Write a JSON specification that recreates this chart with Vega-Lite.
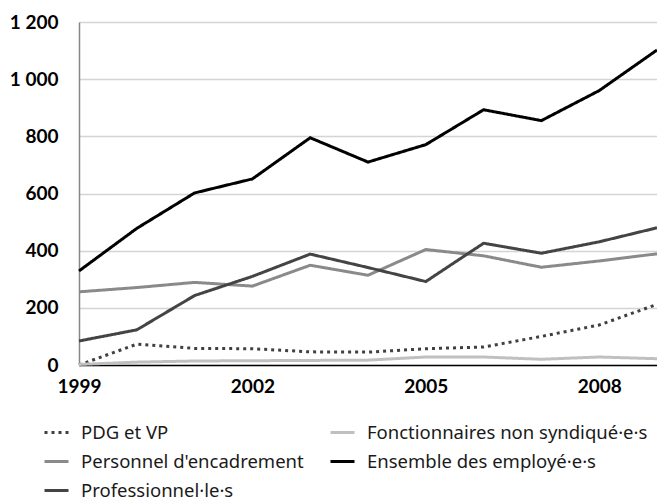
{
  "$schema": "https://vega.github.io/schema/vega-lite/v6.json",
  "width": 578,
  "height": 343,
  "autosize": {"type": "none"},
  "padding": {"left": 79, "top": 22, "right": 0, "bottom": 135},
  "background": "white",
  "config": {"view": {"stroke": null}},
  "data": {
    "values": [
      {"year": 1999, "series": "PDG et VP", "value": 0},
      {"year": 2000, "series": "PDG et VP", "value": 73},
      {"year": 2001, "series": "PDG et VP", "value": 58},
      {"year": 2002, "series": "PDG et VP", "value": 57},
      {"year": 2003, "series": "PDG et VP", "value": 46},
      {"year": 2004, "series": "PDG et VP", "value": 45},
      {"year": 2005, "series": "PDG et VP", "value": 57},
      {"year": 2006, "series": "PDG et VP", "value": 63},
      {"year": 2007, "series": "PDG et VP", "value": 100},
      {"year": 2008, "series": "PDG et VP", "value": 140},
      {"year": 2009, "series": "PDG et VP", "value": 212},
      {"year": 1999, "series": "Fonctionnaires non syndiqué·e·s", "value": 2},
      {"year": 2000, "series": "Fonctionnaires non syndiqué·e·s", "value": 10},
      {"year": 2001, "series": "Fonctionnaires non syndiqué·e·s", "value": 14},
      {"year": 2002, "series": "Fonctionnaires non syndiqué·e·s", "value": 15},
      {"year": 2003, "series": "Fonctionnaires non syndiqué·e·s", "value": 16},
      {"year": 2004, "series": "Fonctionnaires non syndiqué·e·s", "value": 17},
      {"year": 2005, "series": "Fonctionnaires non syndiqué·e·s", "value": 28},
      {"year": 2006, "series": "Fonctionnaires non syndiqué·e·s", "value": 28},
      {"year": 2007, "series": "Fonctionnaires non syndiqué·e·s", "value": 20},
      {"year": 2008, "series": "Fonctionnaires non syndiqué·e·s", "value": 28},
      {"year": 2009, "series": "Fonctionnaires non syndiqué·e·s", "value": 22},
      {"year": 1999, "series": "Personnel d'encadrement", "value": 256},
      {"year": 2000, "series": "Personnel d'encadrement", "value": 271},
      {"year": 2001, "series": "Personnel d'encadrement", "value": 289},
      {"year": 2002, "series": "Personnel d'encadrement", "value": 276},
      {"year": 2003, "series": "Personnel d'encadrement", "value": 349},
      {"year": 2004, "series": "Personnel d'encadrement", "value": 314},
      {"year": 2005, "series": "Personnel d'encadrement", "value": 404},
      {"year": 2006, "series": "Personnel d'encadrement", "value": 382},
      {"year": 2007, "series": "Personnel d'encadrement", "value": 342},
      {"year": 2008, "series": "Personnel d'encadrement", "value": 364},
      {"year": 2009, "series": "Personnel d'encadrement", "value": 389},
      {"year": 1999, "series": "Ensemble des employé·e·s", "value": 329},
      {"year": 2000, "series": "Ensemble des employé·e·s", "value": 478},
      {"year": 2001, "series": "Ensemble des employé·e·s", "value": 602},
      {"year": 2002, "series": "Ensemble des employé·e·s", "value": 651},
      {"year": 2003, "series": "Ensemble des employé·e·s", "value": 795},
      {"year": 2004, "series": "Ensemble des employé·e·s", "value": 710},
      {"year": 2005, "series": "Ensemble des employé·e·s", "value": 771},
      {"year": 2006, "series": "Ensemble des employé·e·s", "value": 893},
      {"year": 2007, "series": "Ensemble des employé·e·s", "value": 855},
      {"year": 2008, "series": "Ensemble des employé·e·s", "value": 960},
      {"year": 2009, "series": "Ensemble des employé·e·s", "value": 1102},
      {"year": 1999, "series": "Professionnel·le·s", "value": 84},
      {"year": 2000, "series": "Professionnel·le·s", "value": 123},
      {"year": 2001, "series": "Professionnel·le·s", "value": 243},
      {"year": 2002, "series": "Professionnel·le·s", "value": 310},
      {"year": 2003, "series": "Professionnel·le·s", "value": 388},
      {"year": 2004, "series": "Professionnel·le·s", "value": 341},
      {"year": 2005, "series": "Professionnel·le·s", "value": 292},
      {"year": 2006, "series": "Professionnel·le·s", "value": 426},
      {"year": 2007, "series": "Professionnel·le·s", "value": 391},
      {"year": 2008, "series": "Professionnel·le·s", "value": 431},
      {"year": 2009, "series": "Professionnel·le·s", "value": 480}
    ]
  },
  "mark": {"type": "line", "strokeWidth": 3, "strokeCap": "butt", "strokeJoin": "miter", "clip": false},
  "encoding": {
    "x": {
      "field": "year",
      "type": "quantitative",
      "scale": {"domain": [1999, 2009], "nice": false, "zero": false},
      "axis": {
        "title": null,
        "values": [1999, 2002, 2005, 2008],
        "format": "d",
        "grid": false,
        "ticks": false,
        "domainColor": "#000000",
        "domainWidth": 1.5,
        "labelFont": "Lato",
        "labelFontWeight": "bold",
        "labelFontSize": 19,
        "labelColor": "#000000",
        "labelPadding": 12,
        "labelFlush": false
      }
    },
    "y": {
      "field": "value",
      "type": "quantitative",
      "scale": {"domain": [0, 1200], "nice": false},
      "axis": {
        "title": null,
        "values": [0, 200, 400, 600, 800, 1000, 1200],
        "labelExpr": "replace(format(datum.value, ','), ',', ' ')",
        "grid": true,
        "gridColor": "#d4d4d4",
        "gridWidth": 1.5,
        "ticks": false,
        "domainColor": "#868686",
        "domainWidth": 1.5,
        "labelFont": "Lato",
        "labelFontWeight": "bold",
        "labelFontSize": 19,
        "labelColor": "#000000",
        "labelPadding": 21
      }
    },
    "color": {
      "field": "series",
      "type": "nominal",
      "sort": null,
      "scale": {
        "domain": ["PDG et VP", "Personnel d'encadrement", "Professionnel·le·s", "Fonctionnaires non syndiqué·e·s", "Ensemble des employé·e·s"],
        "range": ["#404040", "#8a8a8a", "#444444", "#c0c0c0", "#000000"]
      },
      "legend": {
        "title": null,
        "orient": "none",
        "legendX": -36,
        "legendY": 397,
        "columns": 2,
        "columnPadding": 20,
        "rowPadding": 6,
        "symbolType": "stroke",
        "symbolSize": 576,
        "symbolStrokeWidth": 3,
        "labelFont": "Noto Sans",
        "labelFontSize": 18.5,
        "labelColor": "#1a1a1a",
        "labelOffset": 11,
        "labelLimit": 400
      }
    },
    "strokeDash": {
      "field": "series",
      "type": "nominal",
      "sort": null,
      "scale": {
        "domain": ["PDG et VP", "Personnel d'encadrement", "Professionnel·le·s", "Fonctionnaires non syndiqué·e·s", "Ensemble des employé·e·s"],
        "range": [[3, 4], [1, 0], [1, 0], [1, 0], [1, 0]]
      },
      "legend": {
        "title": null,
        "orient": "none",
        "legendX": -36,
        "legendY": 397,
        "columns": 2,
        "columnPadding": 20,
        "rowPadding": 6,
        "symbolType": "stroke",
        "symbolSize": 576,
        "symbolStrokeWidth": 3,
        "labelFont": "Noto Sans",
        "labelFontSize": 18.5,
        "labelColor": "#1a1a1a",
        "labelOffset": 11,
        "labelLimit": 400
      }
    }
  }
}
